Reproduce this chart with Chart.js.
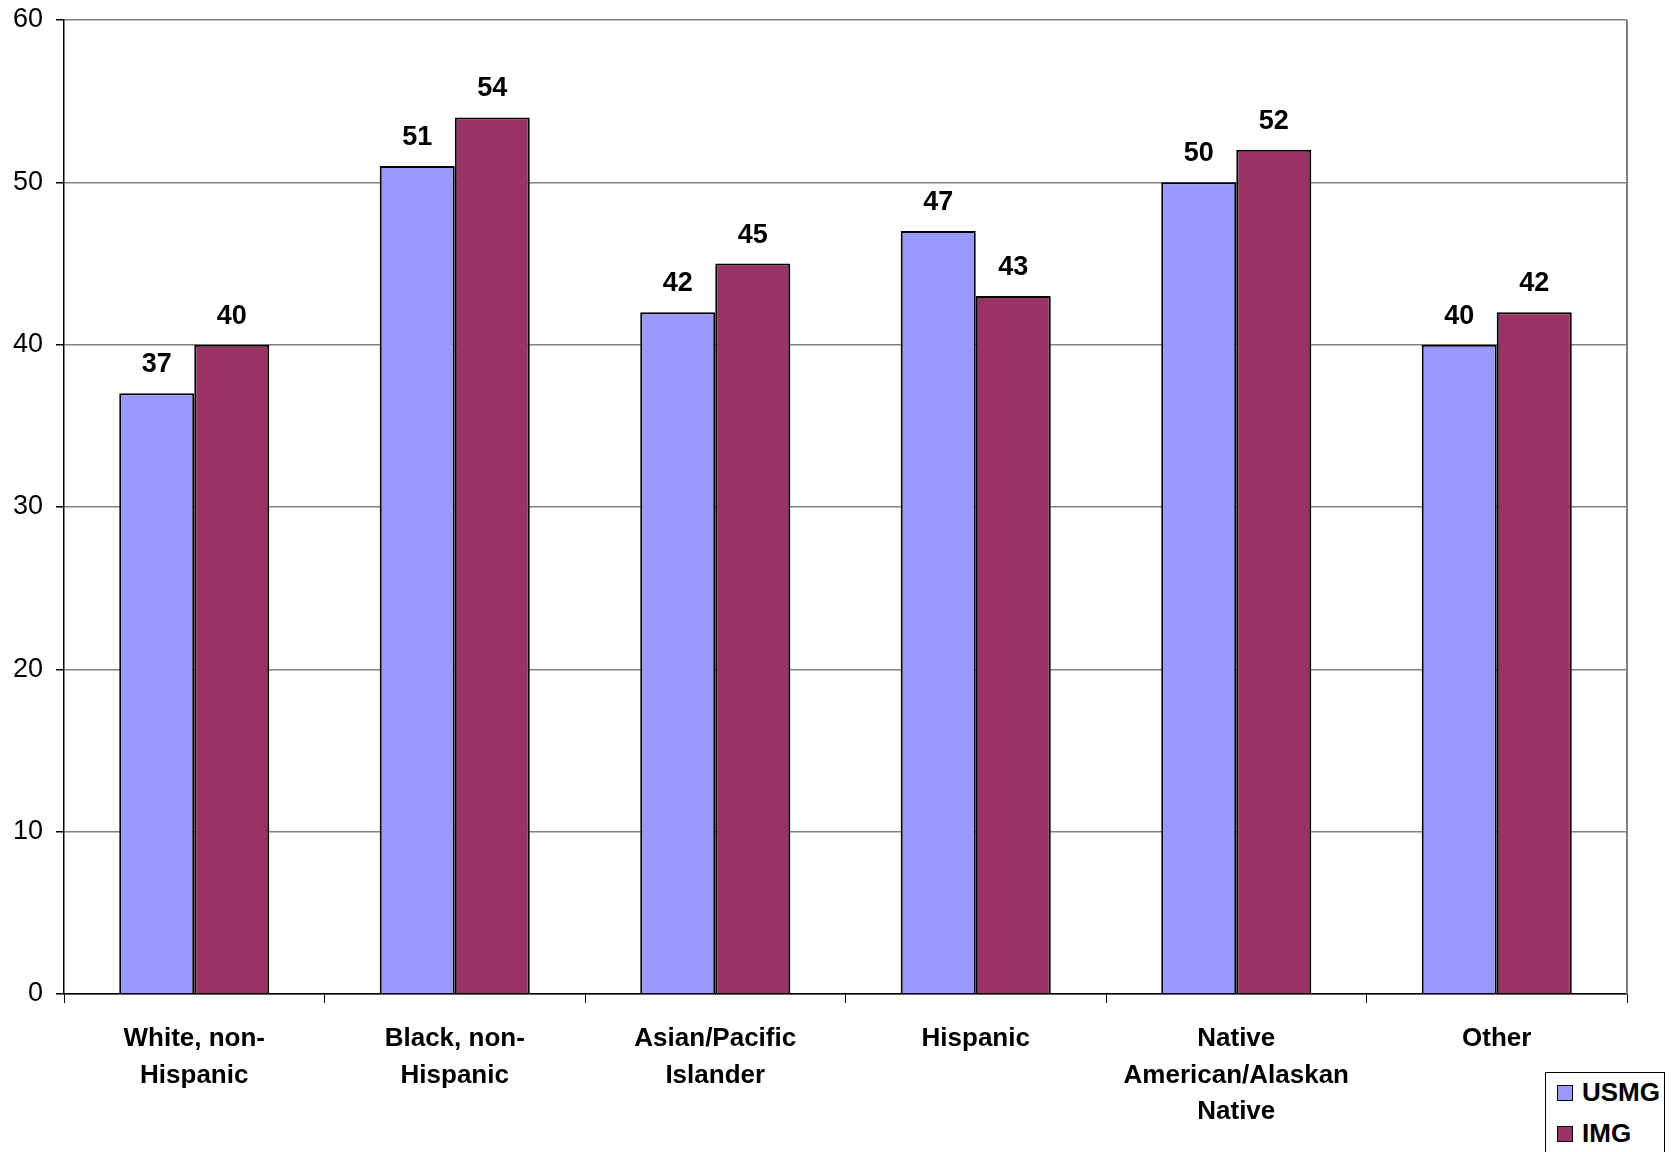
<!DOCTYPE html>
<html>
<head>
<meta charset="utf-8">
<script src="https://cdn.jsdelivr.net/npm/chart.js@4.4.1/dist/chart.umd.min.js"></script>
<style>
  html, body { margin: 0; padding: 0; background: #fff; overflow: hidden; }
  #wrap { position: relative; width: 1674px; height: 1152px; }
  #legend {
    position: absolute; left: 1545px; top: 1072px; width: 118px; height: 100px;
    border: 1.5px solid #000; background: #fff;
    font: bold 26px "Liberation Sans", Arial, sans-serif; color: #000;
  }
  .item { position: absolute; left: 11px; display: flex; align-items: center; }
  .swatch { width: 14px; height: 14px; border: 1.5px solid #000; margin-right: 9px; }
</style>
</head>
<body>
<div id="wrap">
  <canvas id="chart" width="1674" height="1152"></canvas>
  <div id="legend"></div>
</div>
<script>
const categories = [
  ['White, non-', 'Hispanic'],
  ['Black, non-', 'Hispanic'],
  ['Asian/Pacific', 'Islander'],
  'Hispanic',
  ['Native', 'American/Alaskan', 'Native'],
  'Other',
];
const usmgValues = [37, 51, 42, 47, 50, 40];
const imgValues = [40, 54, 45, 43, 52, 42];
const seriesNames = ['USMG', 'IMG'];
const seriesColors = ['#9999FF', '#993366'];

const FONT = '"Liberation Sans", Arial, sans-serif';

// value labels above each bar
const barLabels = {
  id: 'barLabels',
  afterDatasetsDraw(chart) {
    const ctx = chart.ctx;
    ctx.save();
    ctx.font = 'bold 27px ' + FONT;
    ctx.fillStyle = '#000';
    ctx.textAlign = 'center';
    ctx.textBaseline = 'alphabetic';
    chart.data.datasets.forEach((ds, i) => {
      chart.getDatasetMeta(i).data.forEach((bar, j) => {
        ctx.fillText(String(ds.data[j]), bar.x, bar.y - 21);
      });
    });
    ctx.restore();
  },
};

// gray border on the right side of the plot
const rightBorder = {
  id: 'rightBorder',
  beforeDatasetsDraw(chart) {
    const { ctx, chartArea } = chart;
    ctx.save();
    ctx.strokeStyle = '#808080';
    ctx.lineWidth = 2;
    ctx.beginPath();
    ctx.moveTo(chartArea.right, chartArea.top);
    ctx.lineTo(chartArea.right, chartArea.bottom);
    ctx.stroke();
    ctx.restore();
  },
};

const ctx = document.getElementById('chart').getContext('2d');
new Chart(ctx, {
  type: 'bar',
  data: {
    labels: categories,
    datasets: [
      {
        label: seriesNames[0],
        data: usmgValues,
        backgroundColor: seriesColors[0],
        borderColor: '#000',
        borderWidth: 2,
        barPercentage: 1,
        categoryPercentage: 0.576,
      },
      {
        label: seriesNames[1],
        data: imgValues,
        backgroundColor: seriesColors[1],
        borderColor: '#000',
        borderWidth: 2,
        barPercentage: 1,
        categoryPercentage: 0.576,
      },
    ],
  },
  options: {
    responsive: false,
    devicePixelRatio: 1,
    animation: false,
    layout: { padding: { top: 20, right: 47, left: 0, bottom: 0 } },
    plugins: {
      legend: { display: false },
      tooltip: { enabled: false },
    },
    scales: {
      x: {
        grid: {
          offset: true,
          drawOnChartArea: false,
          tickLength: 9,
          tickColor: '#000',
          tickWidth: 1,
        },
        border: { color: '#000', width: 1.5 },
        ticks: {
          color: '#000',
          font: { family: FONT, size: 26, weight: 'bold', lineHeight: 1.4 },
          padding: 18,
          maxRotation: 0,
          autoSkip: false,
        },
        afterFit(scale) {
          scale.height = 158;
          scale.paddingLeft = 0;
          scale.paddingRight = 0;
        },
      },
      y: {
        min: 0,
        max: 60,
        ticks: {
          stepSize: 10,
          color: '#000',
          font: { family: FONT, size: 27 },
          padding: 13,
        },
        grid: {
          color: '#808080',
          lineWidth: 1.5,
          tickLength: 8,
          tickColor: '#000',
        },
        border: { color: '#000', width: 1.5 },
        afterFit(scale) {
          scale.width = 64;
          scale.paddingTop = 0;
          scale.paddingBottom = 0;
        },
      },
    },
  },
  plugins: [barLabels, rightBorder],
});

// HTML legend
const legend = document.getElementById('legend');
seriesNames.forEach((name, i) => {
  const item = document.createElement('div');
  item.className = 'item';
  item.style.top = (i === 0 ? 4 : 45) + 'px';
  const sw = document.createElement('span');
  sw.className = 'swatch';
  sw.style.background = seriesColors[i];
  const txt = document.createElement('span');
  txt.textContent = name;
  item.appendChild(sw);
  item.appendChild(txt);
  legend.appendChild(item);
});
</script>
</body>
</html>
